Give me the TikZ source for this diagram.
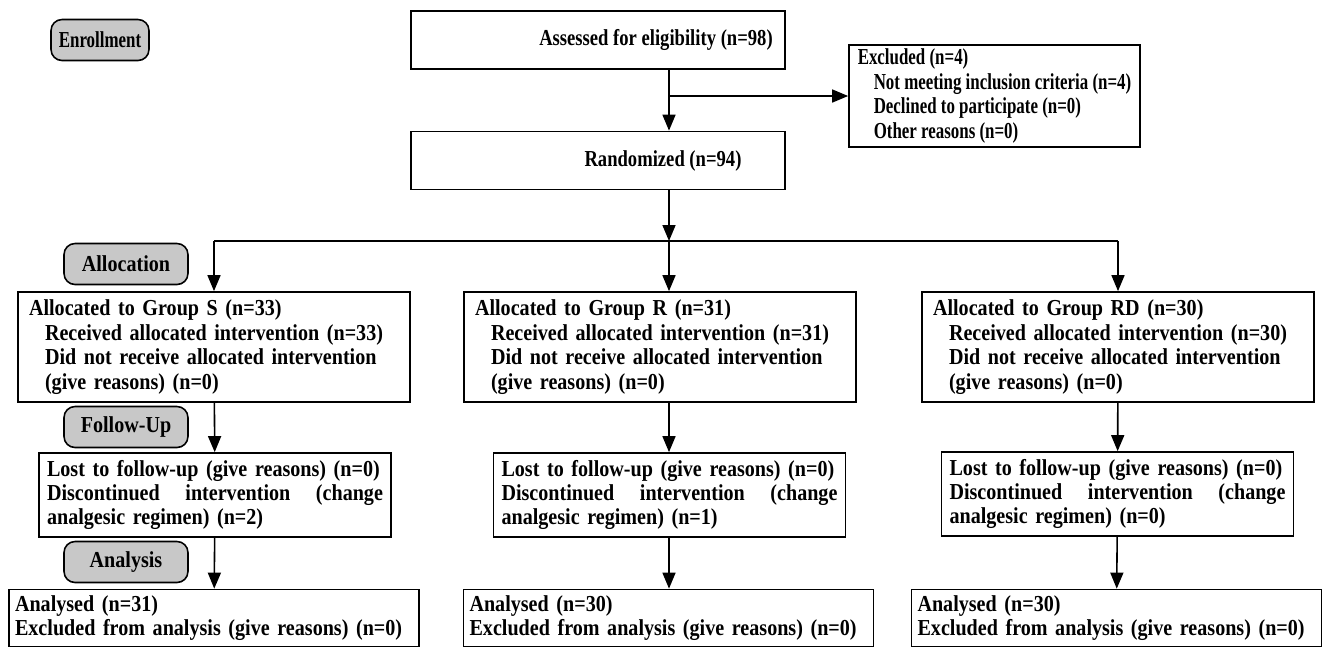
\documentclass[tikz,border=0pt]{standalone}
\usepackage{fontspec}
\setmainfont[FakeStretch=0.88]{Liberation Serif}
\newfontfamily\midfont[FakeStretch=0.815]{Liberation Serif}
\newfontfamily\narrowfont[FakeStretch=0.74]{Liberation Serif}
\usetikzlibrary{arrows.meta}
\definecolor{stagegray}{RGB}{200,200,200}
\tikzset{
  stage/.style={draw, line width=0.9pt, rounded corners=0.22cm, fill=stagegray,
    minimum width=2.48cm, minimum height=0.82cm, inner sep=0pt},
  centbox/.style={draw, line width=1pt, minimum width=7.48cm, minimum height=1.16cm},
  boxtext/.style={inner sep=0pt, font=\fontsize{13}{13.9}\midfont\bfseries},
  listbox/.style={draw, line width=1pt, align=left, inner ysep=0pt},
  allocbox/.style={listbox, text width=7.4cm, inner xsep=0.22cm, minimum height=2.2cm},
  lostbox/.style={listbox, text width=6.72cm, inner xsep=0.16cm, minimum height=1.68cm},
  endbox/.style={listbox, text width=7.96cm, inner xsep=0.12cm, minimum height=1.14cm},
}
\newcommand{\ind}{\hspace*{0.32cm}}
\begin{document}
\begin{tikzpicture}[x=0.02cm, y=-0.02cm, >={Triangle[length=0.32cm, width=0.26cm]},
    font=\fontsize{13}{13.9}\selectfont\bfseries]
    \useasboundingbox (0,0) rectangle (1322,647);

    % Stage labels on the left
    \node[stage, minimum width=1.96cm, font=\fontsize{13}{13.9}\narrowfont\bfseries] (enroll) at (100,40) {Enrollment};
    \node[stage] (alloc) at (126,264) {Allocation};
    \node[stage] (follow) at (126,427) {Follow-Up};
    \node[stage] (analysis) at (126,562) {Analysis};

    % Enrollment
    \node[centbox] (assess) at (598,40) {};
    \node[boxtext] (assesstxt) at (656,40) {Assessed for eligibility (n=98)};
    \node[centbox] (rand) at (598,160.5) {};
    \node[boxtext] (randtxt) at (663,160.5) {Randomized (n=94)};
    \node[listbox, minimum width=5.82cm, minimum height=2.04cm,
      font=\fontsize{13}{13.9}\narrowfont\bfseries] (excl) at (994.5,96)
      {Excluded (n=4)\\
       \ind Not meeting inclusion criteria (n=4)\\
       \ind Declined to participate (n=0)\\
       \ind Other reasons (n=0)};

    % Main line and split
    \coordinate (spine) at (669,0);
    \coordinate (split) at (669,241);

    % Allocation
    \node[allocbox] (grpS) at (214,347)
      {Allocated to Group S (n=33)\\
       \ind Received allocated intervention (n=33)\\
       \ind Did not receive allocated intervention\\
       \ind (give reasons) (n=0)};
    \node[allocbox] (grpR) at (660,347)
      {Allocated to Group R (n=31)\\
       \ind Received allocated intervention (n=31)\\
       \ind Did not receive allocated intervention\\
       \ind (give reasons) (n=0)};
    \node[allocbox] (grpRD) at (1118,347)
      {Allocated to Group RD (n=30)\\
       \ind Received allocated intervention (n=30)\\
       \ind Did not receive allocated intervention\\
       \ind (give reasons) (n=0)};

    % Follow-up
    \node[lostbox] (lostS) at (215,495)
      {Lost to follow-up (give reasons) (n=0)\\
       Discontinued\hfill intervention\hfill (change\\
       analgesic regimen) (n=2)};
    \node[lostbox] (lostR) at (669.5,495)
      {Lost to follow-up (give reasons) (n=0)\\
       Discontinued\hfill intervention\hfill (change\\
       analgesic regimen) (n=1)};
    \node[lostbox] (lostRD) at (1117.5,494)
      {Lost to follow-up (give reasons) (n=0)\\
       Discontinued\hfill intervention\hfill (change\\
       analgesic regimen) (n=0)};

    % Analysis
    \node[endbox] (anS) at (214,618)
      {Analysed (n=31)\\
       Excluded from analysis (give reasons) (n=0)};
    \node[endbox] (anR) at (668.5,618)
      {Analysed (n=30)\\
       Excluded from analysis (give reasons) (n=0)};
    \node[endbox] (anRD) at (1116.5,618)
      {Analysed (n=30)\\
       Excluded from analysis (give reasons) (n=0)};

    % Connectors
    \draw[->, line width=0.9pt] (assess.south -| spine) -- (rand.north -| spine);
    \draw[->, line width=0.9pt] (excl.west -| spine) -- (excl.west);
    \draw[->, line width=0.9pt] (rand.south -| spine) -- (split);
    \draw[line width=0.9pt] (split -| grpS) -- (split -| grpRD);
    \draw[->, line width=0.9pt] (split -| grpS) -- (grpS.north);
    \draw[->, line width=0.9pt] (split) -- (grpR.north -| spine);
    \draw[->, line width=0.9pt] (split -| grpRD) -- (grpRD.north);

    \draw[->, line width=0.9pt] (grpS) -- (lostS);
    \draw[->, line width=0.9pt] (grpR.south -| spine) -- (lostR.north -| spine);
    \draw[->, line width=0.9pt] (grpRD) -- (lostRD);

    \draw[->, line width=0.9pt] (lostS) -- (anS);
    \draw[->, line width=0.9pt] (lostR.south -| spine) -- (anR.north -| spine);
    \draw[->, line width=0.9pt] (lostRD) -- (anRD);
\end{tikzpicture}
\end{document}
